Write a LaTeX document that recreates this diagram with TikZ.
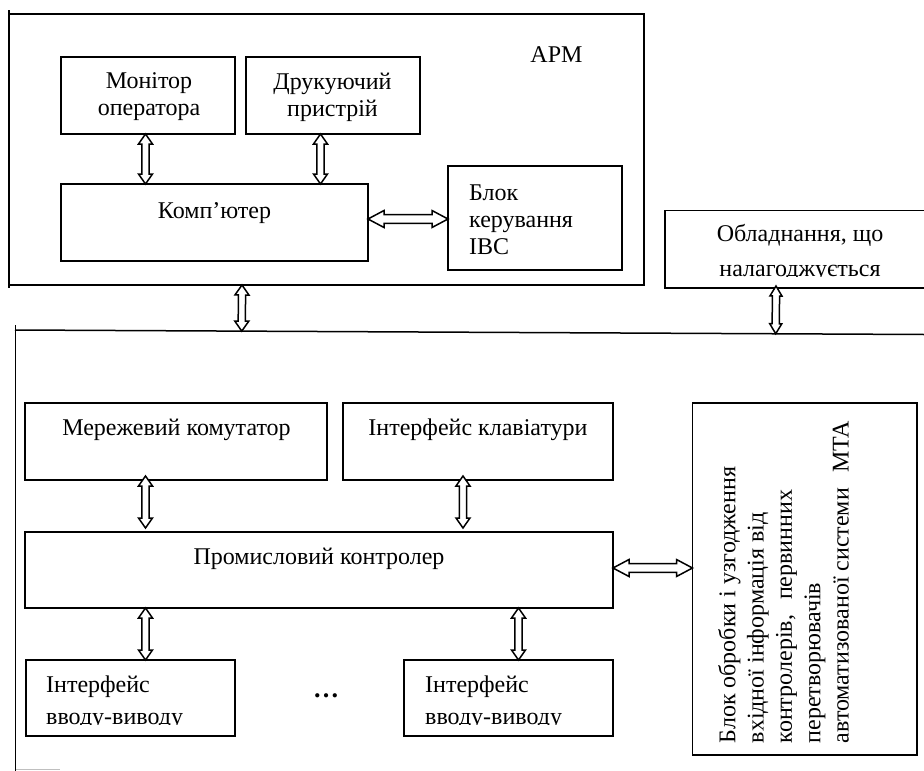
\documentclass[tikz,border=0pt]{standalone}
\usepackage{fontspec}
\setmainfont{Liberation Serif}
\usetikzlibrary{calc}
\newcommand{\bh}{10pt}
\newcommand{\bw}{7pt}
\newcommand{\bs}{3.6pt}
\newcommand{\busarrow}{%
  -- ($(\tikztostart)!\bh!(\tikztotarget)!\bw!90:(\tikztotarget)$)
  -- ($(\tikztostart)!\bh!(\tikztotarget)!\bs!90:(\tikztotarget)$)
  -- ($(\tikztotarget)!\bh!(\tikztostart)!\bs!-90:(\tikztostart)$)
  -- ($(\tikztotarget)!\bh!(\tikztostart)!\bw!-90:(\tikztostart)$)
  -- (\tikztotarget)
  -- ($(\tikztotarget)!\bh!(\tikztostart)!\bw!90:(\tikztostart)$)
  -- ($(\tikztotarget)!\bh!(\tikztostart)!\bs!90:(\tikztostart)$)
  -- ($(\tikztostart)!\bh!(\tikztotarget)!\bs!-90:(\tikztotarget)$)
  -- ($(\tikztostart)!\bh!(\tikztotarget)!\bw!-90:(\tikztotarget)$)
  -- cycle}
\tikzset{
  x=1pt, y=-1pt,
  every node/.style={font=\fontsize{24}{27}\selectfont},
  frameline/.style={draw=black, line width=1.5pt},
  box/.style={draw=black, line width=1.5pt, rectangle, inner sep=0pt, outer sep=0pt, anchor=north west},
  label text/.style={inner sep=0pt, align=center},
  left text/.style={inner sep=0pt, align=left, anchor=west},
  bus/.style={draw=black, line width=1.5pt, fill=white, line join=miter, to path={\busarrow}},
  bus wide/.style={bus, /utils/exec={\renewcommand{\bh}{16pt}\renewcommand{\bw}{8.5pt}\renewcommand{\bs}{4.4pt}}},
  bus slim/.style={bus, /utils/exec={\renewcommand{\bw}{6pt}}},
}
\newcommand{\boxat}[5]{\node[box, minimum width=#4-#2, minimum height=#5-#3] (#1) at (#2,#3) {};}
\begin{document}
\begin{tikzpicture}
\useasboundingbox (0,0) rectangle (924,771);
% outer frames
\draw[frameline] (9,10) -- (9,288);
\draw[frameline] (9,14) -- (644,14) -- (644,285) -- (9,285);
\coordinate (apmbottom) at (242,285);
\draw[frameline] (15.5,325) -- (15.5,771);
\coordinate (busL) at (15,330);
\coordinate (busR) at (924,334.5);
\draw[frameline] (busL) -- (busR);
\draw[draw=black!25, line width=1.5pt] (16,769.5) -- (60,769.5);
% boxes
\boxat{mon}{61}{57}{235}{134}
\boxat{prn}{246}{57}{420}{134}
\boxat{comp}{61}{184}{368}{261}
\boxat{ctl}{448}{166}{622}{270}
\boxat{net}{25}{403}{327}{480}
\boxat{kbd}{343}{403}{613}{480}
\boxat{plc}{25}{532}{613}{608}
\boxat{proc}{692.5}{403}{917}{755}
\boxat{io1}{26}{660}{235}{736}
\boxat{io2}{404}{660}{613}{736}
\draw[frameline] (924,210.5) -- (665,210.5) -- (665,288) -- (924,288);
\coordinate (eqbottom) at (776,286);
% texts
\node[label text] (tapm) at (556.5,55) {АРМ};
\node[label text] (tmon) at (149,97) {Монітор\\оператора};
\node[label text] (tprn) at (332.5,97) {Друкуючий\\пристрій};
\node[label text] (tcomp) at (214.5,213) {Комп’ютер};
\node[left text] (tctl) at (469,219.5) {Блок\\керування\\ІВС};
\node[label text] (teq1) at (800,235) {Обладнання, що};
\begin{scope}
\clip (670,250) rectangle (924,276.5);
\node[label text, anchor=base] (teq2) at (800,276) {налагоджується};
\end{scope}
\node[label text] (tnet) at (176.5,430) {Мережевий комутатор};
\node[label text] (tkbd) at (478,430) {Інтерфейс клавіатури};
\node[label text] (tplc) at (319,559) {Промисловий контролер};
\node[left text, anchor=base west] (tio1a) at (46,692) {Інтерфейс};
\begin{scope}
\clip (40,705) rectangle (230,724.5);
\node[left text, anchor=base west] (tio1b) at (46,724) {вводу-виводу};
\end{scope}
\node[left text, anchor=base west] (tio2a) at (425,692) {Інтерфейс};
\begin{scope}
\clip (420,705) rectangle (610,724.5);
\node[left text, anchor=base west] (tio2b) at (425,724) {вводу-виводу};
\end{scope}
\node[inner sep=0pt, font=\fontsize{26}{26}\selectfont\bfseries] (dots) at (326,696) {…};
\node[inner sep=0pt, align=left, rotate=90, anchor=north west, font=\fontsize{24}{28.3}\selectfont] (tproc) at (718,743.5)
  {Блок обробки і узгодження\\вхідної інформація від\\контролерів,\hspace{15pt}первинних\\перетворювачів\\автоматизованої системи\hspace{15pt}МТА};
% connectors
\coordinate (a1) at (145.5,0);
\coordinate (a2) at (320.5,0);
\coordinate (a3) at (463,0);
\coordinate (a4) at (518.5,0);
\coordinate (h1) at (0,219);
\coordinate (h2) at (0,568);
\draw[bus] (a1 |- mon.south) to (a1 |- comp.north);
\draw[bus] (a2 |- prn.south) to (a2 |- comp.north);
\draw[bus wide] (comp.east |- h1) to (ctl.west |- h1);
\draw[bus] (apmbottom) to ($(busL)!(apmbottom)!(busR)$);
\draw[bus slim] (eqbottom) to ($(busL)!(eqbottom)!(busR)$);
\draw[bus] ($(a1 |- net.south)+(0,-4)$) to ($(a1 |- plc.north)+(0,-4)$);
\draw[bus] ($(a3 |- kbd.south)+(0,-4)$) to ($(a3 |- plc.north)+(0,-4)$);
\draw[bus wide] (plc.east |- h2) to (proc.west |- h2);
\draw[bus] (a1 |- plc.south) to (a1 |- io1.north);
\draw[bus] (a4 |- plc.south) to (a4 |- io2.north);
\end{tikzpicture}
\end{document}
